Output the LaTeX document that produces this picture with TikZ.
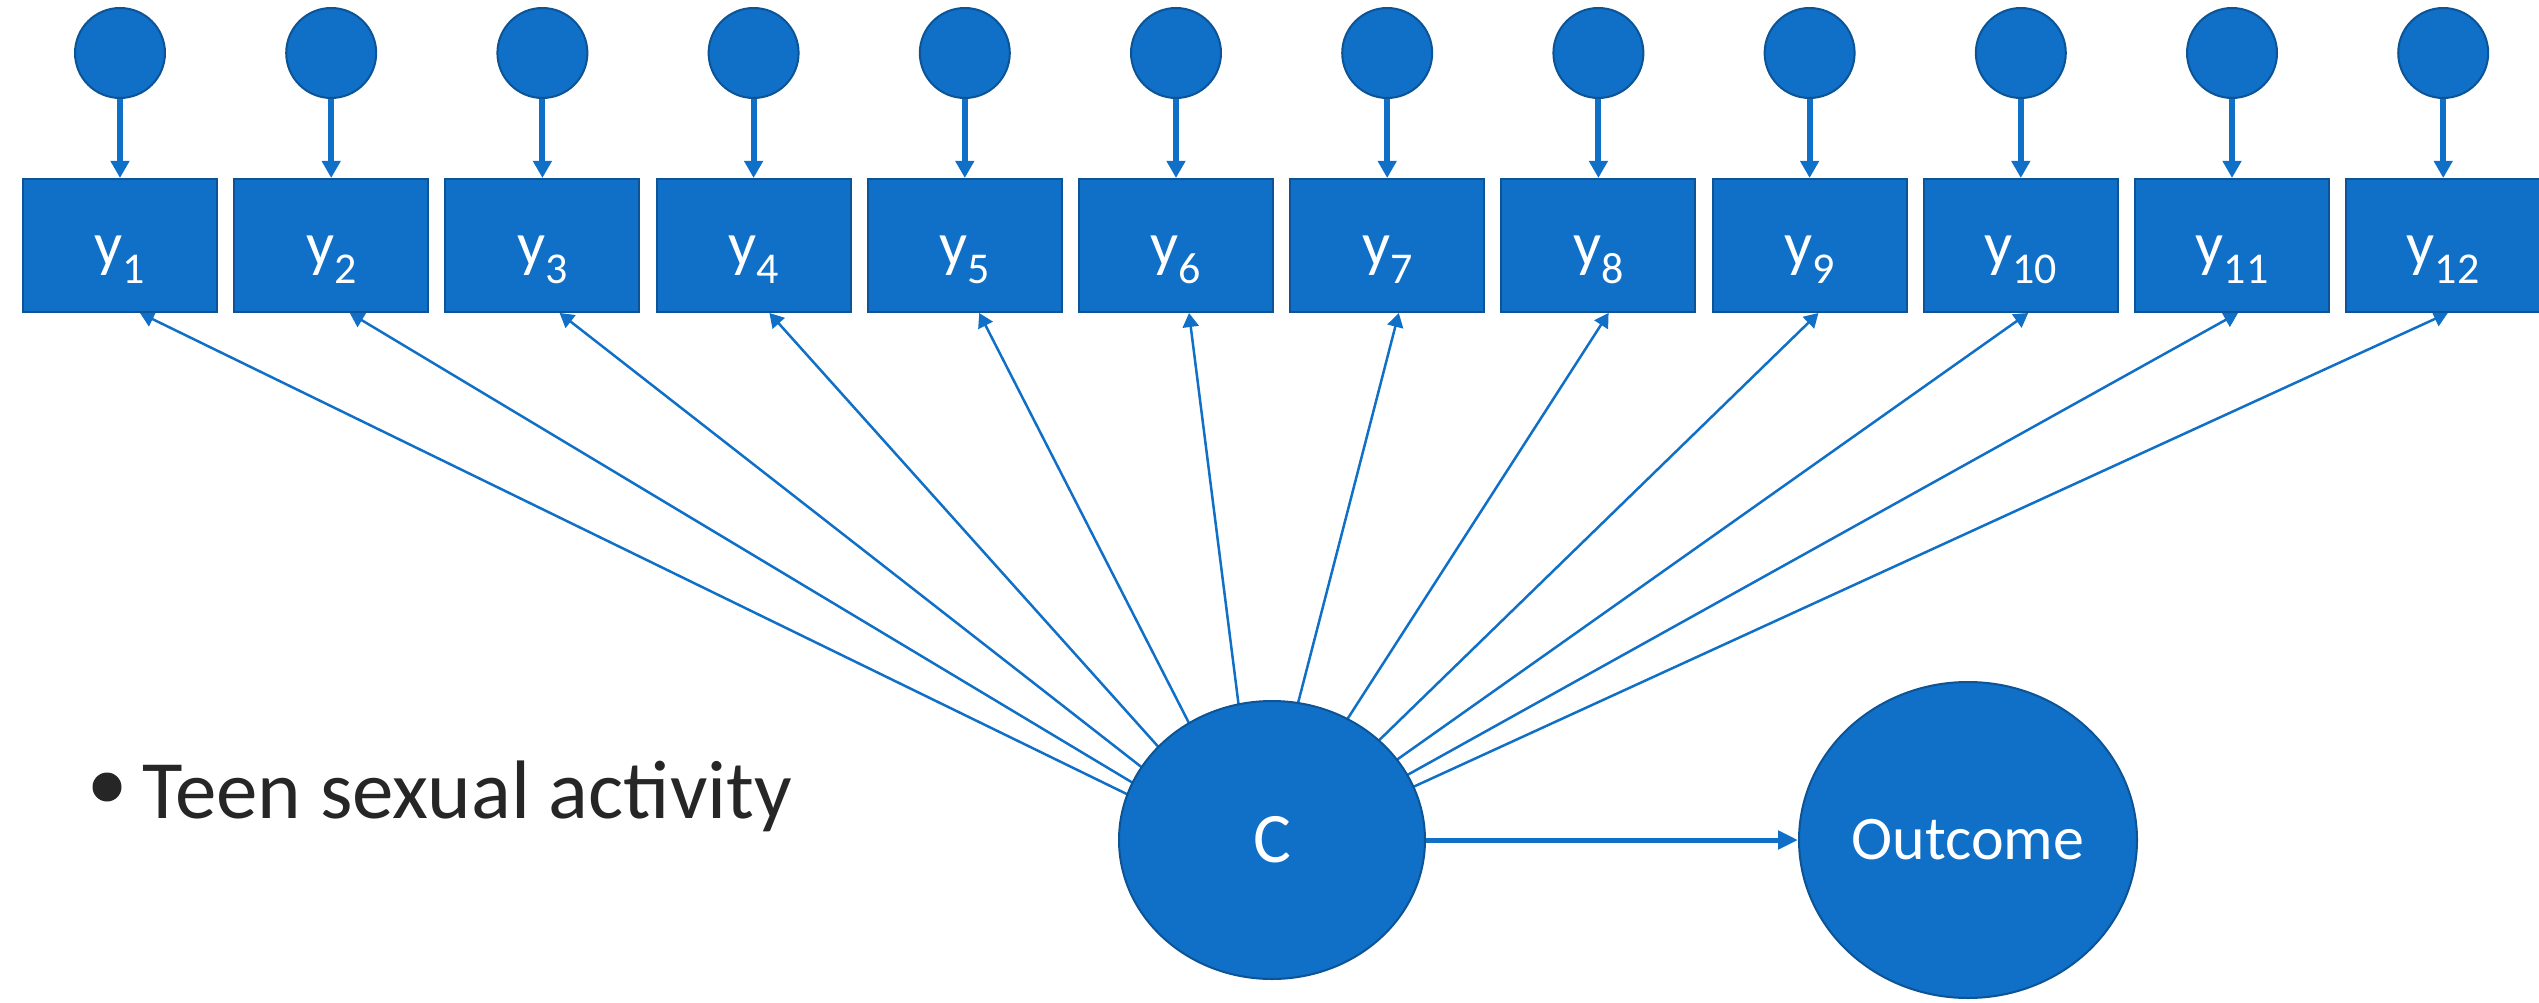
\documentclass[tikz,border=0pt]{standalone}
\usepackage{fontspec}
\setmainfont{Carlito}
\usetikzlibrary{arrows.meta,shapes.geometric}
\definecolor{semfill}{RGB}{16,111,198}
\definecolor{semedge}{RGB}{12,84,150}
\definecolor{bullettext}{RGB}{38,38,38}
\pgfdeclarelayer{behind}
\pgfsetlayers{behind,main}

\begin{document}
\begin{tikzpicture}[x=1pt,y=-1pt,
  errnode/.style={circle,fill=semfill,draw=semedge,line width=2pt,minimum size=90pt,inner sep=0pt},
  indicator/.style={rectangle,fill=semfill,draw=semedge,line width=2pt,
    minimum width=194pt,minimum height=133pt,inner sep=0pt,text=white,
    font=\fontsize{62}{62}\selectfont,text height=50pt,text depth=10pt},
  latent/.style={ellipse,fill=semfill,draw=semedge,line width=2pt,inner sep=0pt,text=white},
  errpath/.style={draw=semfill,line width=6pt,-{Triangle[length=17pt,width=18pt]}},
  loading/.style={draw=semfill,line width=2.5pt,-{Triangle[length=14pt,width=16pt]}},
  effect/.style={draw=semfill,line width=5pt,-{Triangle[length=20pt,width=18pt]}},
]
\useasboundingbox (0,0) rectangle (2539,1003);

% latent class and distal outcome
\node[latent,minimum width=306pt,minimum height=278pt,font=\fontsize{71}{71}\selectfont] (C) at (1272,840) {C};
\node[latent,minimum width=338pt,minimum height=316pt,font=\fontsize{62}{62}\selectfont] (out) at (1968,840) {Outcome};
\draw[effect] (C) -- (out);

% indicators with their residual terms
\foreach \i in {1,...,12} {
  \pgfmathsetmacro\xc{120+211.2*(\i-1)}
  \node[errnode] (e\i) at (\xc,53) {};
  \node[indicator] (y\i) at (\xc,245.5) {y\raisebox{-18pt}{\fontsize{44}{44}\selectfont\i}};
  \draw[errpath] (e\i) -- (y\i);
}

% loadings: drawn behind C from a common point inside it
\begin{pgfonlayer}{behind}
\foreach \i in {1,...,12} {
  \pgfmathsetmacro\dx{20-1.4*(\i-1)}
  \draw[loading] ([shift={(-14,18)}]C.center) -- ([xshift=\dx pt]y\i.south);
}
\end{pgfonlayer}

% bullet point
\node[circle,fill=bullettext,minimum size=29pt,inner sep=0pt] (dot) at (107,787) {};
\node[anchor=base west,text=bullettext,font=\fontsize{83}{83}\selectfont,inner sep=0pt] (topic) at (142,818) {Teen sexual activity};
\end{tikzpicture}
\end{document}
